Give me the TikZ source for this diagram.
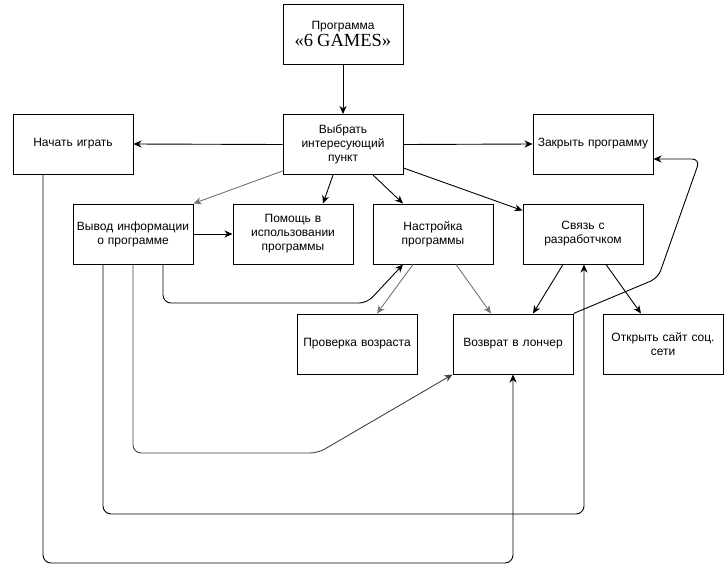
\documentclass[tikz,border=0pt]{standalone}
\usepackage{fontspec}
\setmainfont{Liberation Sans}
\newfontfamily\titleserif{Liberation Serif}
\usetikzlibrary{arrows.meta}
\begin{document}
\begin{tikzpicture}[x=1pt,y=-1pt,
  box/.style={draw=black,line width=1pt,minimum width=120pt,minimum height=60pt,
    align=center,inner sep=2pt,font=\fontsize{12}{14}\selectfont,text width=116pt},
  link/.style={draw=black,line width=0.9pt,-{Stealth[length=8pt,width=7pt,inset=2.5pt]}},
  graylink/.style={link,draw=black!55},
  roundpath/.style={rounded corners=8pt}]
\useasboundingbox (0,0) rectangle (728,571);

% blocks
\node[box] (prog) at (343,34) {Программа\\[1pt]{\titleserif\fontsize{18.5}{20}\selectfont «6 GAMES»}};
\node[box] (choose) at (343,144.5) {Выбрать\\интересующий\\пункт};
\node[box] (start) at (73,144) {Начать играть};
\node[box] (close) at (593,144) {Закрыть программу};
\node[box] (info) at (133,234) {Вывод информации\\о программе};
\node[box] (help) at (293,234) {Помощь в\\использовании\\программы};
\node[box] (settings) at (433,234) {Настройка\\программы};
\node[box] (contact) at (583,234) {Связь с\\разработчком};
\node[box] (age) at (357,344) {Проверка возраста};
\node[box] (back) at (513,344) {Возврат в лончер};
\node[box] (site) at (663,344) {Открыть сайт соц.\\сети};

% links from the menu
\draw[link] (prog.south) -- (choose.north);
\draw[link] (choose.west) -- (start.east);
\draw[link] (choose.east) -- (close.west);
\draw[graylink] ([yshift=4pt]choose.south west) -- (info.north east);
\draw[link] ([xshift=-10pt]choose.south) -- ([xshift=30pt]help.north);
\draw[link] ([xshift=30pt]choose.south) -- ([xshift=-30pt]settings.north);
\draw[link] ([yshift=7pt]choose.south east) -- ([yshift=-7pt]contact.north west);

% second level
\draw[link] (info.east) -- (help.west);
\draw[link,roundpath] ([xshift=30pt]info.south) -- (163,303) -- (367,303) -- ([xshift=-30pt]settings.south);
\draw[graylink] ([xshift=-20pt]settings.south) -- ([xshift=20pt]age.north);
\draw[graylink] ([xshift=23pt]settings.south) -- ([xshift=-22pt]back.north);
\draw[link] ([xshift=-20pt]contact.south) -- ([xshift=20pt]back.north);
\draw[link] ([xshift=23pt]contact.south) -- ([xshift=-22pt]site.north);

% return paths
\draw[link,roundpath] (back.north east) -- (658,278) -- (700,159) -- ([yshift=-15pt]close.east);
\draw[link,roundpath,draw=black!75] (info.south) -- (133,453) -- (318,453) -- (back.south west);
\draw[link,roundpath] ([xshift=-30pt]info.south) -- (103,514) -- (584,514) -- ([xshift=1pt]contact.south);
\draw[link,roundpath] ([xshift=-30pt]start.south) -- (43,563) -- (513,563) -- (back.south);
\end{tikzpicture}
\end{document}
